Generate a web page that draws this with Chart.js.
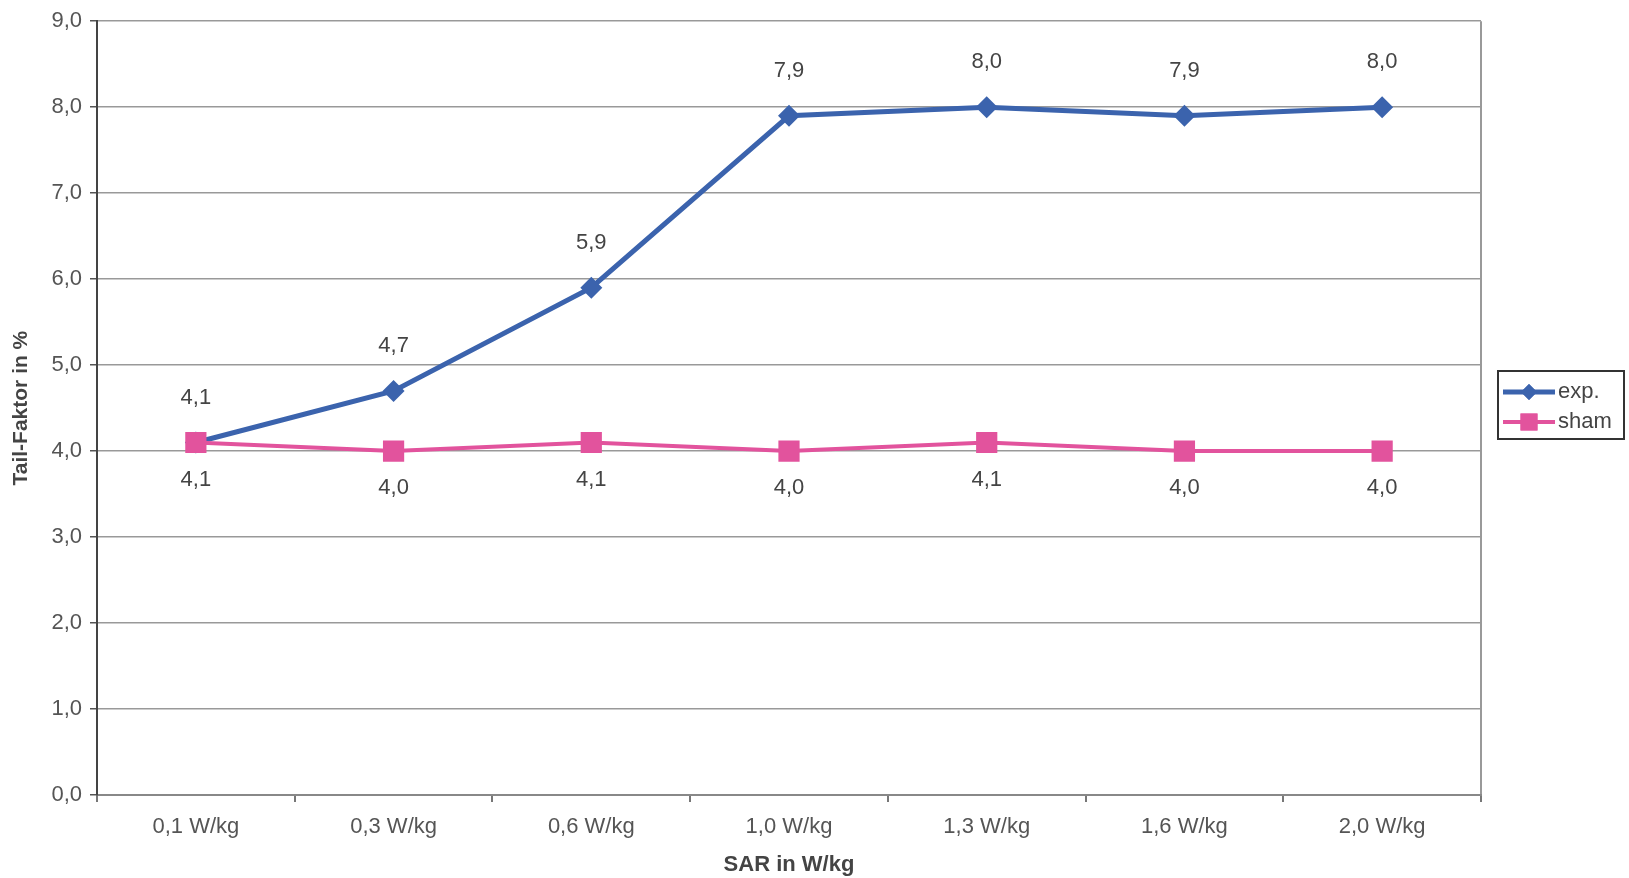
<!DOCTYPE html>
<html>
<head>
<meta charset="utf-8">
<script src="https://cdn.jsdelivr.net/npm/chart.js@4"></script>
<style>
  html, body { margin: 0; padding: 0; background: #fff; }
  #wrap { width: 1629px; height: 878px; }
</style>
</head>
<body>
<div id="wrap"><canvas id="tailChart" width="1629" height="878"></canvas></div>
<script>
var categories = ['0,1 W/kg', '0,3 W/kg', '0,6 W/kg', '1,0 W/kg', '1,3 W/kg', '1,6 W/kg', '2,0 W/kg'];
var expValues = [4.1, 4.7, 5.9, 7.9, 8.0, 7.9, 8.0];
var shamValues = [4.1, 4.0, 4.1, 4.0, 4.1, 4.0, 4.0];

var BLUE = '#3b63ad';
var PINK = '#e2539d';
var FONT = "'Liberation Sans', Arial, sans-serif";

function fmt(v) {
    return v.toFixed(1).replace('.', ',');
}

// values above (exp) / below (sham) the points
var valueLabels = {
    id: 'valueLabels',
    afterDatasetsDraw: function (chart) {
        var ctx = chart.ctx;
        ctx.save();
        ctx.font = '22px ' + FONT;
        ctx.fillStyle = '#444';
        ctx.textAlign = 'center';
        ctx.textBaseline = 'middle';
        chart.data.datasets.forEach(function (ds, i) {
            var meta = chart.getDatasetMeta(i);
            meta.data.forEach(function (pt, j) {
                var dy = ds.label === 'exp.' ? -45 : 37;
                ctx.fillText(fmt(ds.data[j]), pt.x, pt.y + dy);
            });
        });
        ctx.restore();
    }
};

// boxed legend on the right
var boxLegend = {
    id: 'boxLegend',
    afterDraw: function (chart) {
        var ctx = chart.ctx;
        var x = 1498, y = 371, w = 126, h = 68;
        ctx.save();
        ctx.strokeStyle = '#333';
        ctx.lineWidth = 2;
        ctx.strokeRect(x, y, w, h);
        var rows = [
            { text: 'exp.', color: BLUE, style: 'rectRot', r: 8, lw: 5, y: 392 },
            { text: 'sham', color: PINK, style: 'rect', r: 12, lw: 4, y: 422 }
        ];
        rows.forEach(function (row) {
            ctx.strokeStyle = row.color;
            ctx.lineWidth = row.lw;
            ctx.beginPath();
            ctx.moveTo(1503, row.y);
            ctx.lineTo(1555, row.y);
            ctx.stroke();
            ctx.fillStyle = row.color;
            Chart.helpers.drawPoint(ctx, { pointStyle: row.style, radius: row.r, borderWidth: 0 }, 1529, row.y);
            ctx.fill();
            ctx.fillStyle = '#444';
            ctx.font = '22px ' + FONT;
            ctx.textAlign = 'left';
            ctx.textBaseline = 'middle';
            ctx.fillText(row.text, 1558, row.y);
        });
        ctx.restore();
    }
};

document.addEventListener('DOMContentLoaded', function () {
    var ctx = document.getElementById('tailChart').getContext('2d');
    var tailChart = new Chart(ctx, {
        type: 'line',
        data: {
            labels: categories,
            datasets: [{
                label: 'exp.',
                data: expValues,
                borderColor: BLUE,
                backgroundColor: BLUE,
                borderWidth: 5,
                pointStyle: 'rectRot',
                pointRadius: 11,
                pointBorderWidth: 0,
                tension: 0,
                order: 1
            }, {
                label: 'sham',
                data: shamValues,
                borderColor: PINK,
                backgroundColor: PINK,
                borderWidth: 4,
                pointStyle: 'rect',
                pointRadius: 15,
                pointBorderWidth: 0,
                tension: 0,
                order: 0
            }]
        },
        options: {
            responsive: false,
            animation: false,
            devicePixelRatio: 1,
            layout: { padding: { top: 16, right: 148, bottom: 0, left: 0 } },
            plugins: {
                legend: { display: false },
                tooltip: { enabled: false }
            },
            scales: {
                x: {
                    type: 'category',
                    offset: true,
                    afterFit: function (s) { s.height = 83; },
                    border: { color: '#888', width: 2 },
                    grid: {
                        offset: true,
                        color: function (c) { return c.tick ? 'rgba(0,0,0,0)' : '#999'; },
                        lineWidth: 2,
                        tickColor: '#777',
                        tickLength: 7
                    },
                    ticks: {
                        color: '#555',
                        font: { family: FONT, size: 22 },
                        padding: 12,
                        maxRotation: 0
                    },
                    title: {
                        display: true,
                        text: 'SAR in W/kg',
                        color: '#444',
                        font: { family: FONT, size: 22, weight: 'bold' },
                        padding: { top: 0, bottom: 0 }
                    }
                },
                y: {
                    min: 0,
                    max: 9,
                    afterFit: function (s) { s.width = 97; },
                    border: { color: '#444', width: 2 },
                    grid: {
                        color: '#999',
                        lineWidth: 1.5,
                        tickColor: '#555',
                        tickLength: 7
                    },
                    ticks: {
                        stepSize: 1,
                        color: '#555',
                        font: { family: FONT, size: 22 },
                        padding: 8,
                        callback: function (v) { return fmt(v); }
                    },
                    title: {
                        display: true,
                        text: 'Tail-Faktor in %',
                        color: '#444',
                        font: { family: FONT, size: 21, weight: 'bold' },
                        padding: { top: 9, bottom: 0 }
                    }
                }
            }
        },
        plugins: [valueLabels, boxLegend]
    });
});
</script>
</body>
</html>
